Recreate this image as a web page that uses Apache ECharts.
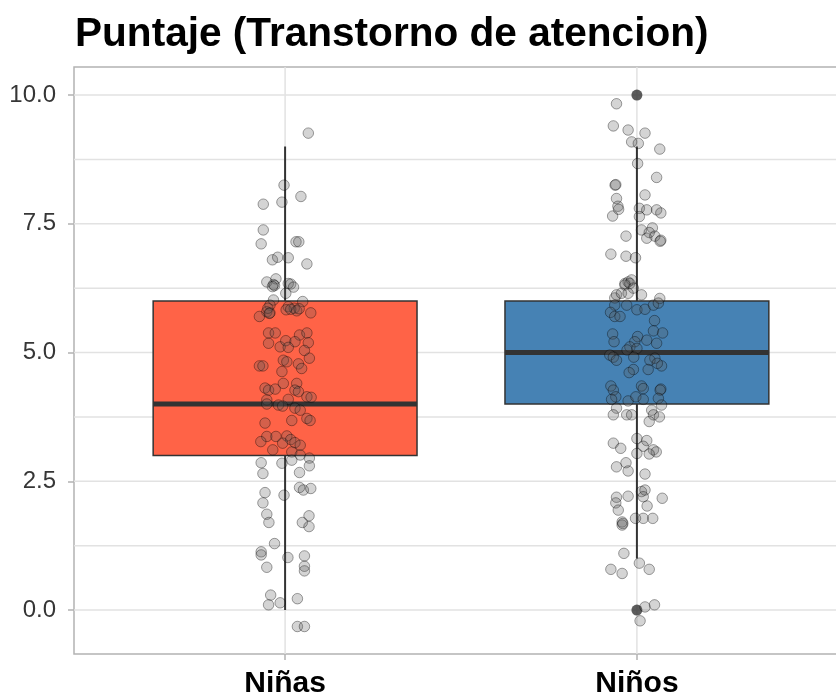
<!DOCTYPE html>
<html>
<head>
<meta charset="utf-8">
<script src="https://cdn.jsdelivr.net/npm/echarts@6/dist/echarts.min.js"></script>
<style>
  html, body { margin: 0; padding: 0; background: #ffffff; }
  #chart { width: 836px; height: 698px; }
</style>
</head>
<body>
<div id="chart"></div>
<script>
// Groups and their box colours
const categories = ['Niñas', 'Niños'];
const boxColors = ['#FF6347', '#4682B4'];

// Box statistics per group: [lower whisker, Q1, median, Q3, upper whisker]
const boxStats = [
  [0, 3, 4, 6, 9],
  [1, 4, 5, 6, 9]
];

// Outlying scores: [group index, score]
const outliers = [[1, 0], [1, 10]];

// Y axis ticks and minor grid lines
const yTicks = [0, 2.5, 5, 7.5, 10];
const yMinorLines = [1.25, 3.75, 6.25, 8.75];

// Jittered individual scores: [horizontal jitter, score]
const ninasPoints = [
  [0.066, 9.26], [-0.003, 8.25], [0.045, 8.03], [-0.062, 7.88], [-0.009, 7.92], [-0.062, 7.38],
  [-0.068, 7.11], [0.031, 7.15], [0.039, 7.15], [-0.036, 6.80], [-0.021, 6.85], [0.009, 6.84],
  [0.062, 6.72], [-0.052, 6.37], [-0.026, 6.43], [-0.033, 6.32], [-0.030, 6.30], [-0.036, 6.28],
  [0.009, 6.34], [0.016, 6.33], [0.024, 6.27], [0.002, 6.15], [-0.033, 6.02], [0.050, 5.99],
  [-0.043, 5.92], [0.009, 5.89], [0.026, 5.86], [-0.052, 5.79], [-0.043, 5.77], [0.003, 5.83],
  [0.033, 5.81], [0.073, 5.77], [-0.073, 5.70], [-0.049, 5.86], [0.016, 5.84], [0.040, 5.85],
  [-0.045, 5.76], [-0.047, 5.38], [-0.028, 5.38], [0.041, 5.34], [0.062, 5.38], [-0.047, 5.18],
  [-0.014, 5.11], [0.002, 5.23], [0.028, 5.21], [0.066, 5.19], [0.009, 5.10], [0.055, 5.04],
  [0.069, 4.89], [-0.005, 4.85], [0.005, 4.82], [-0.073, 4.74], [-0.063, 4.74], [0.038, 4.78],
  [0.047, 4.69], [-0.009, 4.63], [-0.005, 4.40], [0.033, 4.40], [-0.057, 4.31], [-0.047, 4.27],
  [-0.028, 4.29], [0.028, 4.27], [0.038, 4.24], [0.062, 4.14], [0.074, 4.13], [-0.052, 4.08],
  [0.009, 4.09], [-0.052, 4.00], [-0.019, 3.98], [-0.007, 3.96], [0.028, 3.92], [0.043, 3.88],
  [-0.057, 3.63], [0.019, 3.68], [0.062, 3.72], [0.071, 3.68], [-0.052, 3.37], [-0.026, 3.37],
  [0.005, 3.38], [-0.069, 3.27], [0.016, 3.31], [-0.007, 3.24], [0.028, 3.25], [0.043, 3.20],
  [-0.035, 3.11], [0.019, 3.07], [0.043, 3.01], [0.069, 2.95], [-0.068, 2.86], [-0.009, 2.85],
  [0.019, 2.91], [0.069, 2.80], [-0.063, 2.65], [0.041, 2.67], [-0.057, 2.28], [-0.003, 2.23],
  [0.041, 2.38], [0.052, 2.33], [0.073, 2.36], [-0.063, 2.08], [-0.052, 1.86], [-0.046, 1.70],
  [0.068, 1.83], [0.049, 1.70], [0.068, 1.62], [-0.030, 1.29], [-0.068, 1.13], [-0.068, 1.07],
  [0.008, 1.02], [0.055, 1.05], [0.055, 0.85], [0.055, 0.76], [-0.052, 0.83], [-0.041, 0.29],
  [-0.047, 0.10], [-0.014, 0.14], [0.035, 0.22], [0.035, -0.32], [0.055, -0.32]
];

const ninosPoints = [
  [-0.058, 9.83], [-0.067, 9.40], [-0.025, 9.32], [0.023, 9.26], [-0.015, 9.09], [0.004, 9.06],
  [0.065, 8.95], [0.002, 8.67], [0.056, 8.40], [-0.062, 8.25], [-0.060, 8.26], [-0.058, 7.99],
  [0.023, 8.06], [-0.054, 7.84], [-0.052, 7.78], [0.007, 7.80], [0.028, 7.77], [0.056, 7.77],
  [0.068, 7.71], [-0.069, 7.65], [0.007, 7.64], [0.044, 7.42], [0.013, 7.38], [0.035, 7.33],
  [-0.031, 7.26], [0.028, 7.22], [0.051, 7.26], [0.068, 7.18], [0.066, 7.16], [-0.074, 6.91],
  [-0.031, 6.87], [-0.004, 6.84], [-0.034, 6.34], [-0.025, 6.37], [-0.015, 6.41], [-0.063, 6.06],
  [-0.034, 6.31], [-0.020, 6.34], [-0.010, 6.25], [-0.058, 6.12], [-0.044, 6.15], [0.013, 6.12],
  [-0.025, 6.15], [0.065, 6.05], [-0.063, 5.92], [-0.029, 5.92], [0.000, 5.83], [0.023, 5.84],
  [0.047, 5.92], [0.061, 5.96], [-0.075, 5.78], [-0.063, 5.70], [-0.048, 5.70], [0.050, 5.62],
  [0.047, 5.42], [0.073, 5.38], [-0.069, 5.36], [-0.065, 5.21], [0.002, 5.31], [-0.006, 5.21],
  [0.028, 5.24], [0.056, 5.18], [-0.020, 5.11], [-0.028, 5.05], [0.000, 5.08], [-0.077, 4.95],
  [-0.067, 4.91], [-0.058, 4.85], [-0.009, 4.91], [0.051, 4.89], [0.037, 4.85], [0.070, 4.74],
  [0.058, 4.79], [0.032, 4.67], [-0.010, 4.67], [-0.022, 4.61], [-0.074, 4.35], [-0.067, 4.27],
  [0.013, 4.35], [0.018, 4.30], [0.068, 4.29], [0.066, 4.27], [-0.060, 4.14], [-0.072, 4.09],
  [0.061, 4.11], [-0.025, 4.06], [-0.003, 4.14], [0.018, 4.09], [0.070, 3.98], [-0.058, 3.92],
  [-0.067, 3.79], [-0.029, 3.79], [-0.015, 3.79], [0.042, 3.88], [0.047, 3.79], [0.064, 3.75],
  [0.035, 3.66], [0.000, 3.33], [0.028, 3.29], [-0.067, 3.24], [-0.046, 3.14], [0.018, 3.18],
  [0.047, 3.11], [0.055, 3.07], [0.035, 3.03], [0.000, 3.04], [-0.031, 2.86], [-0.058, 2.78],
  [-0.025, 2.70], [0.023, 2.64], [-0.025, 2.21], [-0.058, 2.19], [-0.060, 2.08], [-0.053, 1.94],
  [0.013, 2.30], [0.023, 2.33], [0.018, 2.20], [0.029, 2.02], [0.072, 2.17], [-0.042, 1.71],
  [-0.042, 1.65], [-0.040, 1.68], [-0.004, 1.78], [0.018, 1.78], [0.045, 1.78], [-0.037, 1.10],
  [0.007, 0.91], [0.035, 0.79], [-0.074, 0.79], [-0.042, 0.71], [0.023, 0.06], [0.050, 0.10],
  [0.009, -0.21]
];

const FONT = '"Liberation Sans", Arial, sans-serif';
const GRID_COLOR = '#e2e2e2';
const FRAME_COLOR = '#b3b3b3';
const INK = '#333333';

const jitterData = []
  .concat(ninasPoints.map(([dx, v]) => [0 + dx, v]))
  .concat(ninosPoints.map(([dx, v]) => [1 + dx, v]));

// Grid lines: [orientation (0 = horizontal, 1 = vertical), position]
const gridLineData = yTicks.concat(yMinorLines).map((v) => [0, v])
  .concat(categories.map((c, i) => [1, i]));

const chart = echarts.init(document.getElementById('chart'), null, { renderer: 'canvas' });

chart.setOption({
  animation: false,
  backgroundColor: '#ffffff',
  title: {
    text: 'Puntaje (Transtorno de atencion)',
    left: 75,
    top: 14,
    padding: 0,
    textStyle: { fontFamily: FONT, fontSize: 40.6, fontWeight: 'bold', color: '#000000' }
  },
  grid: {
    left: 74,
    top: 67,
    right: -12,
    bottom: 44,
    show: true,
    borderColor: FRAME_COLOR,
    borderWidth: 1.5,
    containLabel: false,
    outerBoundsMode: 'none'
  },
  xAxis: {
    type: 'value',
    position: 'bottom',
    min: -0.6,
    max: 1.6,
    axisLine: { show: false, onZero: false },
    splitLine: { show: false },
    axisTick: {
      show: true,
      customValues: categories.map((c, i) => i),
      length: 6,
      lineStyle: { color: FRAME_COLOR, width: 1.5 }
    },
    axisLabel: {
      customValues: categories.map((c, i) => i),
      formatter: (v) => categories[Math.round(v)],
      fontFamily: FONT,
      fontSize: 30,
      fontWeight: 'bold',
      color: '#000000',
      margin: 15
    }
  },
  yAxis: {
    type: 'value',
    position: 'left',
    min: -0.854,
    max: 10.544,
    axisLine: { show: false, onZero: false },
    splitLine: { show: false },
    axisTick: {
      show: true,
      customValues: yTicks,
      length: 6,
      lineStyle: { color: FRAME_COLOR, width: 1.5 }
    },
    axisLabel: {
      customValues: yTicks,
      formatter: (v) => v.toFixed(1),
      fontFamily: FONT,
      fontSize: 24,
      color: '#363636',
      margin: 18
    }
  },
  series: [
    {
      // panel grid lines
      type: 'custom',
      silent: true,
      z: 0,
      data: gridLineData,
      dimensions: ['kind', 'pos'],
      renderItem: (params, api) => {
        const cs = params.coordSys;
        const kind = api.value(0);
        const pos = api.value(1);
        if (kind === 0) {
          const y = api.coord([0, pos])[1];
          return {
            type: 'line',
            shape: { x1: cs.x, y1: y, x2: cs.x + cs.width, y2: y },
            style: { stroke: GRID_COLOR, lineWidth: 1.5 }
          };
        }
        const x = api.coord([pos, 0])[0];
        return {
          type: 'line',
          shape: { x1: x, y1: cs.y, x2: x, y2: cs.y + cs.height },
          style: { stroke: GRID_COLOR, lineWidth: 1.5 }
        };
      }
    },
    {
      // box and whiskers
      type: 'custom',
      z: 2,
      data: boxStats.map((s, i) => [i].concat(s)),
      encode: { x: 0, y: [1, 2, 3, 4, 5] },
      renderItem: (params, api) => {
        const x = api.value(0);
        const lo = api.coord([x, api.value(1)]);
        const q1 = api.coord([x, api.value(2)]);
        const md = api.coord([x, api.value(3)]);
        const q3 = api.coord([x, api.value(4)]);
        const hi = api.coord([x, api.value(5)]);
        const w = api.size([0.75, 0])[0];
        const cx = lo[0];
        return {
          type: 'group',
          children: [
            { type: 'line', shape: { x1: cx, y1: hi[1], x2: cx, y2: q3[1] }, style: { stroke: INK, lineWidth: 2 } },
            { type: 'line', shape: { x1: cx, y1: q1[1], x2: cx, y2: lo[1] }, style: { stroke: INK, lineWidth: 2 } },
            {
              type: 'rect',
              shape: { x: cx - w / 2, y: q3[1], width: w, height: q1[1] - q3[1] },
              style: { fill: boxColors[params.dataIndex], stroke: INK, lineWidth: 1.5 }
            },
            { type: 'line', shape: { x1: cx - w / 2, y1: md[1], x2: cx + w / 2, y2: md[1] }, style: { stroke: INK, lineWidth: 5 } }
          ]
        };
      }
    },
    {
      // outlying scores
      type: 'scatter',
      z: 3,
      symbol: 'circle',
      symbolSize: 11,
      itemStyle: { color: INK },
      data: outliers
    },
    {
      // individual scores
      type: 'scatter',
      z: 4,
      symbol: 'circle',
      symbolSize: 10.5,
      itemStyle: {
        color: 'rgba(90, 90, 90, 0.32)',
        borderColor: 'rgba(0, 0, 0, 0.45)',
        borderWidth: 1
      },
      data: jitterData
    }
  ]
});
</script>
</body>
</html>
